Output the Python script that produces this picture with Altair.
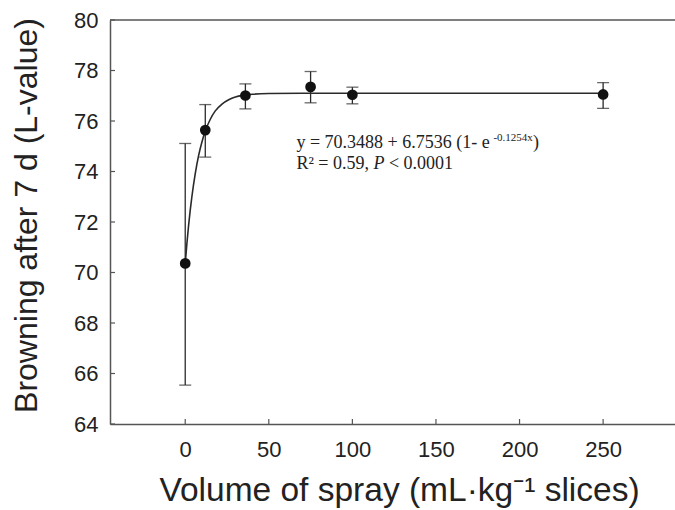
import altair as alt
import pandas as pd

# ---- data ----
volume = [0, 12, 36, 75, 100, 250]
l_mean = [70.36, 75.64, 77.01, 77.35, 77.04, 77.05]
l_low = [65.54, 74.57, 76.48, 76.72, 76.68, 76.50]
l_high = [75.11, 76.65, 77.47, 77.96, 77.34, 77.52]

fit_x = [0, 1, 2, 3, 4, 6, 8, 10, 12, 15, 18, 22, 26, 30, 35, 40, 50, 70, 100, 150, 250]
fit_y = [70.35, 71.15, 71.85, 72.47, 73.01, 73.92, 74.63, 75.17, 75.60, 76.07, 76.40,
         76.67, 76.84, 76.95, 77.02, 77.06, 77.09, 77.10, 77.10, 77.10, 77.10]

x_ticks = [0, 50, 100, 150, 200, 250]
y_ticks = [64, 66, 68, 70, 72, 74, 76, 78, 80]

eq_line1 = "y = 70.3488 + 6.7536 (1- e"
eq_sup = "-0.1254x"
eq_close = ")"
r2_text = "R² = 0.59,"
p_text = "P"
p_rest = "< 0.0001"
ann_x = 66.5
ann_y1 = 74.95
ann_y2 = 74.11

x_title = "Volume of spray (mL·kg⁻¹ slices)"
y_title = "Browning after 7 d (L-value)"

W, H = 565, 404

pts = pd.DataFrame({"x": volume, "y": l_mean, "lo": l_low, "hi": l_high})
fit = pd.DataFrame({"x": fit_x, "y": fit_y})
xt = pd.DataFrame({"x": x_ticks})
yt = pd.DataFrame({"y": y_ticks})
one = pd.DataFrame({"x": [ann_x], "y1": [ann_y1], "y2": [ann_y2]})

xs = alt.Scale(domain=[-45, 293], nice=False, zero=False)
ys = alt.Scale(domain=[64, 80], nice=False, zero=False)

x_axis = alt.Axis(values=x_ticks, ticks=False, grid=False, title=x_title,
                  labelPadding=15, titleX=289, titleY=76, titleAlign="center",
                  titleBaseline="alphabetic", titleFontSize=33.5)
y_axis = alt.Axis(values=y_ticks, ticks=False, grid=False, title=y_title,
                  labelPadding=12, titleX=-74, titleY=195, titleAlign="center",
                  titleBaseline="alphabetic", titleAngle=270, titleFontSize=32)

X = alt.X("x:Q", scale=xs, axis=x_axis)
Y = alt.Y("y:Q", scale=ys, axis=y_axis)

curve = alt.Chart(fit).mark_line(color="#2a2a2a", strokeWidth=1.6,
                                 interpolate="monotone").encode(x=X, y=Y)

bars = alt.Chart(pts).mark_rule(color="#2a2a2a", strokeWidth=1.3).encode(
    x=X, y=alt.Y("lo:Q", scale=ys), y2="hi:Q")
cap_lo = alt.Chart(pts).mark_tick(color="#2a2a2a", orient="horizontal",
                                  size=12, thickness=1.3).encode(
    x=X, y=alt.Y("lo:Q", scale=ys))
cap_hi = alt.Chart(pts).mark_tick(color="#2a2a2a", orient="horizontal",
                                  size=12, thickness=1.3).encode(
    x=X, y=alt.Y("hi:Q", scale=ys))

dots = alt.Chart(pts).mark_circle(color="#111111", opacity=1, size=115).encode(x=X, y=Y)

xticks = alt.Chart(xt).mark_rule(color="#555555", strokeWidth=1.2).encode(
    x=X, y=alt.value(H), y2=alt.value(H - 5))
yticks = alt.Chart(yt).mark_rule(color="#555555", strokeWidth=1.2).encode(
    y=Y, x=alt.value(0), x2=alt.value(5))

top_line = alt.Chart(one).mark_rule(color="#555555", strokeWidth=1.5).encode(
    x=alt.value(0), x2=alt.value(W), y=alt.value(0))

serif = "Liberation Serif"
t1 = alt.Chart(one).mark_text(font=serif, fontSize=18, align="left",
                              baseline="alphabetic", color="#222222", text=eq_line1).encode(
    x=alt.X("x:Q", scale=xs), y=alt.Y("y1:Q", scale=ys))
t1s = alt.Chart(one).mark_text(font=serif, fontSize=11, align="left",
                               baseline="alphabetic", color="#222222", text=eq_sup,
                               dx=197, dy=-7).encode(
    x=alt.X("x:Q", scale=xs), y=alt.Y("y1:Q", scale=ys))
t1c = alt.Chart(one).mark_text(font=serif, fontSize=18, align="left",
                               baseline="alphabetic", color="#222222", text=eq_close,
                               dx=236.5).encode(
    x=alt.X("x:Q", scale=xs), y=alt.Y("y1:Q", scale=ys))
t2 = alt.Chart(one).mark_text(font=serif, fontSize=18, align="left",
                              baseline="alphabetic", color="#222222", text=r2_text).encode(
    x=alt.X("x:Q", scale=xs), y=alt.Y("y2:Q", scale=ys))
t2p = alt.Chart(one).mark_text(font=serif, fontSize=18, align="left", fontStyle="italic",
                               baseline="alphabetic", color="#222222", text=p_text,
                               dx=77).encode(
    x=alt.X("x:Q", scale=xs), y=alt.Y("y2:Q", scale=ys))
t2r = alt.Chart(one).mark_text(font=serif, fontSize=18, align="left",
                               baseline="alphabetic", color="#222222", text=p_rest,
                               dx=92.5).encode(
    x=alt.X("x:Q", scale=xs), y=alt.Y("y2:Q", scale=ys))

chart = alt.layer(
    curve, bars, cap_lo, cap_hi, dots, xticks, yticks, top_line,
    t1, t1s, t1c, t2, t2p, t2r
).properties(
    width=W, height=H,
    autosize=alt.AutoSizeParams(type="none"),
    padding={"left": 110, "top": 20, "right": 0, "bottom": 86},
    background="white",
).configure_view(stroke=None).configure_axis(
    domainColor="#555555", domainWidth=1.5,
    labelFont="Liberation Sans", labelFontSize=22, labelColor="#222222",
    titleFont="Liberation Sans", titleFontWeight="normal",
    titleColor="#222222",
)

chart.save("out.html", embed_options={"renderer": "svg", "actions": False})
